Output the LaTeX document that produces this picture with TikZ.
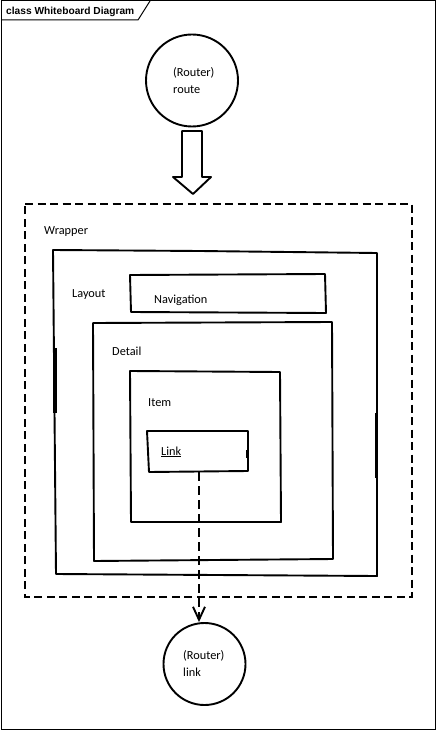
\documentclass[tikz,border=0pt]{standalone}
\usepackage{fontspec}
\setmainfont{Carlito}
\newfontfamily\headfont{Liberation Sans}
\usetikzlibrary{arrows.meta}
\tikzset{
  sketch/.style={draw=black, line width=1.9pt, line join=round},
  thickmark/.style={draw=black, line width=3.5pt},
  lbl/.style={anchor=base west, inner sep=0pt, font=\fontsize{12.3}{14}\selectfont},
  routerc/.style={circle, draw=black, line width=1.9pt, inner sep=0pt},
  wrapdash/.style={draw=black, line width=1.9pt, dash pattern=on 8pt off 4.5pt},
  linkdash/.style={draw=black, line width=1.9pt, dash pattern=on 9pt off 5pt},
}
\begin{document}
\begin{tikzpicture}[x=1pt,y=-1pt]
\useasboundingbox (0,0) rectangle (436,730);
% frame
\draw[line width=1pt] (1,1) rectangle (435,729);
\draw[line width=1pt] (1,20) -- (138,20) -- (150,1);
\node[anchor=base west, inner sep=0pt, font=\headfont\bfseries\fontsize{10.2}{12}\selectfont] (title) at (6,14.5) {class Whiteboard Diagram};

% top router
\node[routerc, minimum size=92pt] (rroute) at (192,80.5) {};
\node[lbl] (t1) at (173,77) {(Router)};
\node[lbl] (t2) at (173,94) {route};

% block arrow
\draw[sketch] (182,131) -- (202,131) -- (202,177) -- (211,177) -- (193,194) -- (173,177) -- (182,177) -- cycle;

% wrapper
\draw[wrapdash] (25,204) -- (412,204) -- (412,597) -- (25,597) -- cycle;
\node[lbl] (wrapper) at (44,234) {Wrapper};

% layout
\draw[sketch] (53,250) -- (200,251) -- (377,253) -- (377,576) -- (56,574) -- cycle;
\draw[thickmark] (55,348) -- (55,413);
\draw[thickmark] (376.5,413) -- (376.5,478);
\node[lbl] (layout) at (72,297) {Layout};

% navigation
\draw[sketch] (130,275) -- (325,274) -- (326,313) -- (131,312) -- cycle;
\node[lbl] (nav) at (154,303) {Navigation};

% detail
\draw[sketch] (93,323) -- (332,322) -- (333,559) -- (94,561) -- cycle;
\node[lbl] (detail) at (112,355) {Detail};

% item
\draw[sketch] (130,371) -- (280,372) -- (281,522) -- (131,522) -- cycle;
\node[lbl] (item) at (148,406) {Item};

% link
\node[draw=none, minimum width=100pt, minimum height=41pt, inner sep=0pt] (linkbox) at (197.5,451.5) {};
\draw[sketch] (147,431) -- (248,431) -- (248,471) -- (149,472) -- cycle;
\draw[thickmark] (247.5,450) -- (247.5,458);
\node[lbl] (link) at (161,455) {\underline{Link}};

% bottom router
\node[routerc, minimum size=82pt] (rlink) at (204.5,664) {};
\node[lbl] (t3) at (183,659) {(Router)};
\node[lbl] (t4) at (183,676) {link};

% connector
\coordinate (ctop) at ([xshift=1.5pt]linkbox.south);
\draw[linkdash, -{Straight Barb[length=13pt,width=12pt,line width=1.9pt]}] (ctop) -- (ctop |- rlink.north);
\end{tikzpicture}
\end{document}
